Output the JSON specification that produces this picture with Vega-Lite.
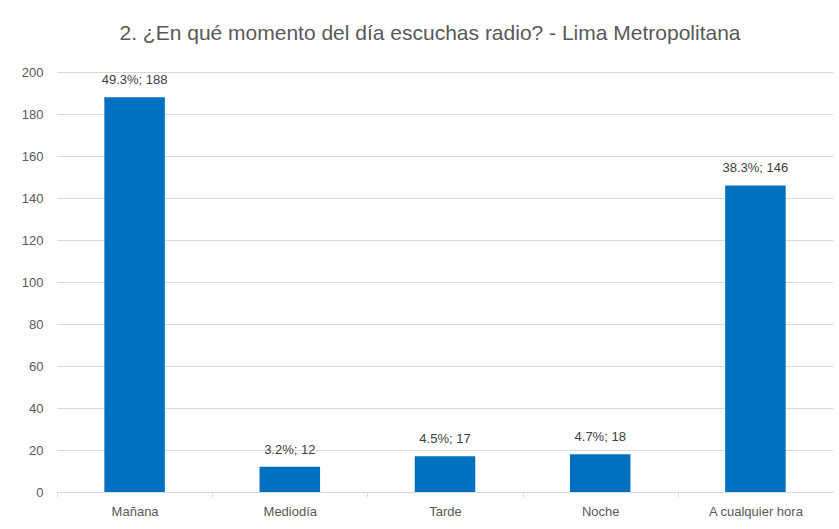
{
  "$schema": "https://vega.github.io/schema/vega-lite/v6.json",
  "autosize": {"type": "none"},
  "width": 776,
  "height": 420,
  "padding": {"left": 57, "top": 72, "right": 6, "bottom": 37},
  "background": "white",
  "title": {
    "text": "2. ¿En qué momento del día escuchas radio? - Lima Metropolitana",
    "font": "Liberation Sans",
    "fontSize": 21,
    "fontWeight": "normal",
    "color": "#595959",
    "anchor": "middle",
    "dx": -15,
    "offset": 22
  },
  "data": {
    "values": [
      {"momento": "Mañana", "n": 188, "label": "49.3%; 188"},
      {"momento": "Mediodía", "n": 12, "label": "3.2%; 12"},
      {"momento": "Tarde", "n": 17, "label": "4.5%; 17"},
      {"momento": "Noche", "n": 18, "label": "4.7%; 18"},
      {"momento": "A cualquier hora", "n": 146, "label": "38.3%; 146"}
    ]
  },
  "encoding": {
    "x": {
      "field": "momento",
      "type": "nominal",
      "sort": null,
      "scale": {"paddingInner": 0.61, "paddingOuter": 0.305},
      "axis": {
        "title": null,
        "labelAngle": 0,
        "labelFont": "Liberation Sans",
        "labelFontSize": 13,
        "labelColor": "#595959",
        "labelPadding": 8,
        "labelOffset": 77.6,
        "domainColor": "#d9d9d9",
        "tickColor": "#d9d9d9",
        "tickSize": 5,
        "tickOffset": -77.6
      }
    },
    "y": {
      "field": "n",
      "type": "quantitative",
      "scale": {"domain": [0, 200]},
      "axis": {
        "title": null,
        "values": [0, 20, 40, 60, 80, 100, 120, 140, 160, 180, 200],
        "labelFont": "Liberation Sans",
        "labelFontSize": 13,
        "labelColor": "#595959",
        "labelPadding": 14,
        "ticks": false,
        "domain": false,
        "gridColor": "#d9d9d9",
        "gridWidth": 1
      }
    }
  },
  "layer": [
    {"mark": {"type": "bar", "color": "#0070C0"}},
    {
      "mark": {
        "type": "text",
        "baseline": "bottom",
        "dy": -10,
        "font": "Liberation Sans",
        "fontSize": 13,
        "color": "#404040"
      },
      "encoding": {"text": {"field": "label"}}
    }
  ],
  "config": {"view": {"stroke": null}}
}
